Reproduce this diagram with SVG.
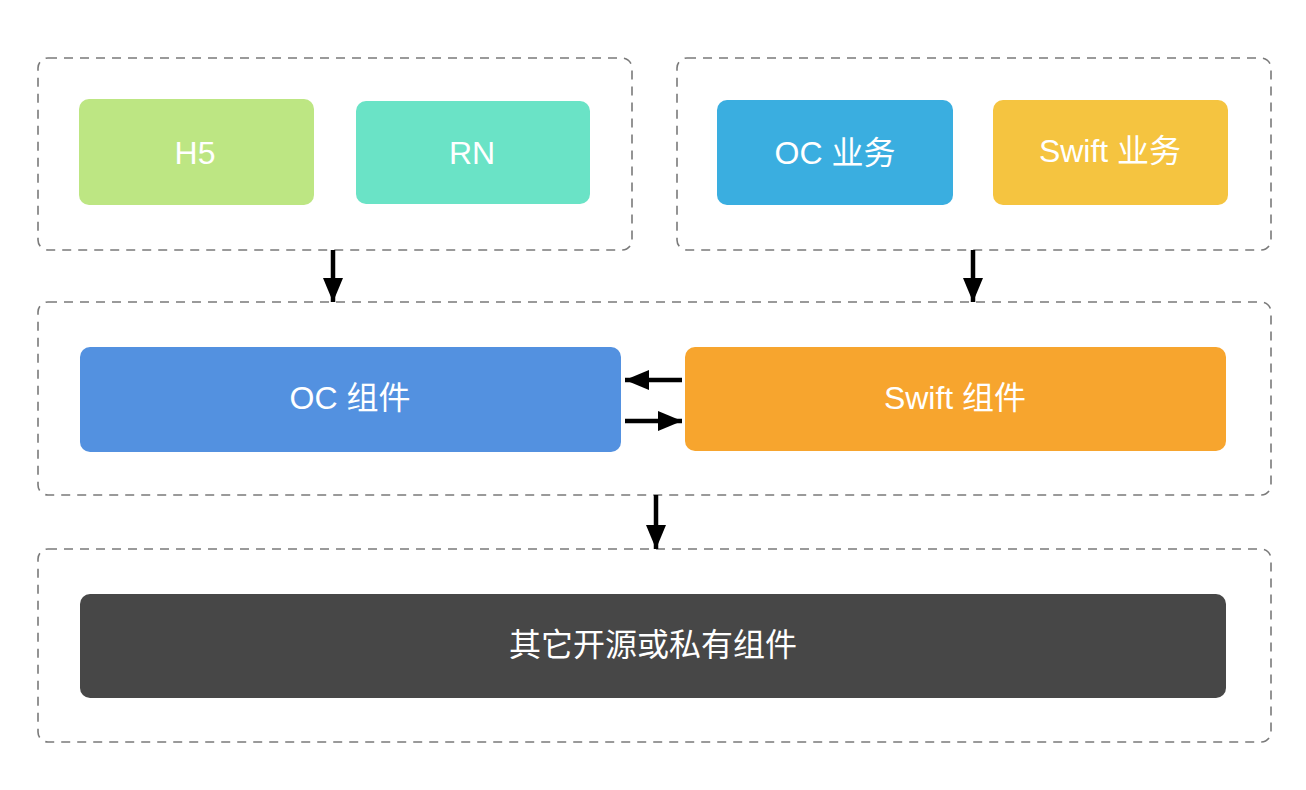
<svg xmlns="http://www.w3.org/2000/svg" width="1306" height="790" viewBox="0 0 1306 790">
<defs>
<style>
.grp{fill:none;stroke:#7a7a7a;stroke-width:1.6;stroke-dasharray:9 7}
.lbl{font-family:"Liberation Sans","Noto Sans CJK SC",sans-serif;font-size:32px;fill:#ffffff;text-anchor:middle;dominant-baseline:central}
.arr{stroke:#000;stroke-width:4.5;fill:none}
</style>
<marker id="ah" viewBox="0 0 24 20" refX="24" refY="10" markerWidth="24" markerHeight="20" markerUnits="userSpaceOnUse" orient="auto">
<path d="M0,0 L24,10 L0,20 Z" fill="#000"/>
</marker>
</defs>
<rect width="1306" height="790" fill="#ffffff"/>
<g id="groups">
<rect id="grp-top-left" class="grp" x="38" y="58" width="594" height="192" rx="10"/>
<rect id="grp-top-right" class="grp" x="677" y="58" width="594" height="192" rx="10"/>
<rect id="grp-mid" class="grp" x="38" y="302" width="1233" height="193" rx="10"/>
<rect id="grp-bottom" class="grp" x="38" y="549" width="1233" height="193" rx="10"/>
</g>
<g id="node-h5"><rect x="79" y="99" width="235" height="106" rx="10" fill="#bde683"/><text class="lbl" x="195" y="153">H5</text></g>
<g id="node-rn"><rect x="356" y="101" width="234" height="103" rx="10" fill="#6ae3c6"/><text class="lbl" x="472" y="153">RN</text></g>
<g id="node-oc-biz"><rect x="717" y="100" width="236" height="105" rx="10" fill="#3aaee0"/><text class="lbl" x="835" y="153">OC 业务</text></g>
<g id="node-swift-biz"><rect x="993" y="100" width="235" height="105" rx="10" fill="#f5c440"/><text class="lbl" x="1110" y="151">Swift 业务</text></g>
<g id="node-oc-comp"><rect x="80" y="347" width="541" height="105" rx="10" fill="#5391e0"/><text class="lbl" x="350" y="398">OC 组件</text></g>
<g id="node-swift-comp"><rect x="685" y="347" width="541" height="104" rx="10" fill="#f7a52e"/><text class="lbl" x="955" y="398">Swift 组件</text></g>
<g id="node-others"><rect x="80" y="594" width="1146" height="104" rx="10" fill="#474747"/><text class="lbl" x="653" y="645">其它开源或私有组件</text></g>
<g id="connectors">
<line class="arr" x1="333" y1="250" x2="333" y2="302" marker-end="url(#ah)"/>
<line class="arr" x1="973" y1="250" x2="973" y2="302" marker-end="url(#ah)"/>
<line class="arr" x1="656" y1="495" x2="656" y2="549" marker-end="url(#ah)"/>
<line class="arr" x1="682" y1="380" x2="625" y2="380" marker-end="url(#ah)"/>
<line class="arr" x1="625" y1="421" x2="682" y2="421" marker-end="url(#ah)"/>
</g>
</svg>
